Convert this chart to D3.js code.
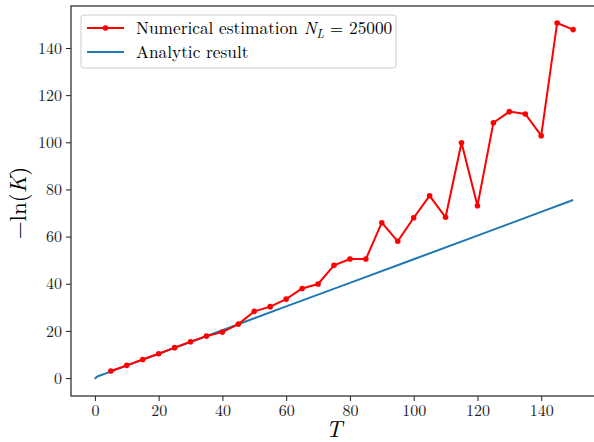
<!DOCTYPE html>
<html>
<head>
<meta charset="utf-8">
<script src="https://cdn.jsdelivr.net/npm/d3@7"></script>
<style>
  body { margin: 0; background: #fff; }
  svg text { font-family: "Latin Modern Roman", "CMU Serif", "Liberation Serif", serif; }
</style>
</head>
<body>
<svg width="594" height="442"></svg>
<script>
// numerical estimation, N_L = 25000
var numT = [5, 10, 15, 20, 25, 30, 35, 40, 45, 50, 55, 60, 65, 70, 75, 80, 85, 90, 95, 100,
  105, 110, 115, 120, 125, 130, 135, 140, 145, 150];
var numVal = [3.0, 5.4, 7.9, 10.3, 12.9, 15.4, 17.8, 19.5, 22.9, 28.3, 30.3, 33.5, 38.0, 39.9, 47.8,
  50.5, 50.5, 65.9, 58.0, 68.0, 77.3, 68.2, 99.8, 73.1, 108.3, 113.0, 112.0, 102.8, 150.6, 147.8];

// analytic result
var anaT = [0, 0.3, 0.7, 1.2, 2, 3, 5, 10, 20, 40, 60, 80, 100, 120, 140, 150];
var anaVal = [-0.4, 0.2, 0.6, 0.9, 1.3, 1.8, 2.8, 5.3, 10.3, 20.3, 30.4, 40.4, 50.4, 60.4, 70.5, 75.5];

var xTicks = [0, 20, 40, 60, 80, 100, 120, 140];
var yTicks = [0, 20, 40, 60, 80, 100, 120, 140];

var svg = d3.select("svg");

var x = d3.scaleLinear().domain([-7.5, 157.5]).range([71, 597]);
var y = d3.scaleLinear().domain([-7.6, 157.8]).range([396, 6]);

var num = numT.map(function (t, i) { return { t: t, v: numVal[i] }; });
var ana = anaT.map(function (t, i) { return { t: t, v: anaVal[i] }; });

var line = d3.line()
  .x(function (d) { return x(d.t); })
  .y(function (d) { return y(d.v); });

svg.append("path")
  .datum(ana)
  .attr("d", line)
  .attr("fill", "none")
  .attr("stroke", "#1f77b4")
  .attr("stroke-width", 2);

svg.append("path")
  .datum(num)
  .attr("d", line)
  .attr("fill", "none")
  .attr("stroke", "red")
  .attr("stroke-width", 2);

svg.append("g")
  .selectAll("circle")
  .data(num)
  .enter()
  .append("circle")
  .attr("cx", function (d) { return x(d.t); })
  .attr("cy", function (d) { return y(d.v); })
  .attr("r", 2.8)
  .attr("fill", "red");

// axes
var xAxis = svg.append("g")
  .attr("transform", "translate(0,396)")
  .call(d3.axisBottom(x).tickValues(xTicks).tickSize(5).tickPadding(4).tickSizeOuter(0));

var yAxis = svg.append("g")
  .attr("transform", "translate(71,0)")
  .call(d3.axisLeft(y).tickValues(yTicks).tickSize(5).tickPadding(4).tickSizeOuter(0));

[xAxis, yAxis].forEach(function (g) {
  g.select(".domain").remove();
  g.selectAll("line").attr("stroke", "#222");
  g.selectAll("text").attr("font-size", 16).attr("fill", "#222")
    .style("font-family", "'Latin Modern Roman', 'CMU Serif', 'Liberation Serif', serif");
});

// frame
svg.append("rect")
  .attr("x", 71).attr("y", 6)
  .attr("width", 526).attr("height", 390)
  .attr("fill", "none")
  .attr("stroke", "#222")
  .attr("stroke-width", 1.2);

// axis labels
svg.append("text")
  .attr("x", 334).attr("y", 437)
  .attr("text-anchor", "middle")
  .attr("font-size", 23)
  .attr("font-style", "italic")
  .text("T");

svg.append("text")
  .attr("transform", "translate(26,203) rotate(-90)")
  .attr("text-anchor", "middle")
  .attr("font-size", 23)
  .html("\u2212ln(<tspan font-style='italic'>K</tspan>)");

// legend
var leg = svg.append("g");
leg.append("rect")
  .attr("x", 81).attr("y", 15)
  .attr("width", 315).attr("height", 53)
  .attr("rx", 3)
  .attr("fill", "#fff")
  .attr("fill-opacity", 0.8)
  .attr("stroke", "#ccc");

leg.append("line")
  .attr("x1", 87).attr("x2", 124).attr("y1", 28).attr("y2", 28)
  .attr("stroke", "red").attr("stroke-width", 2);
leg.append("circle")
  .attr("cx", 105.5).attr("cy", 28).attr("r", 2.8).attr("fill", "red");
leg.append("line")
  .attr("x1", 87).attr("x2", 124).attr("y1", 52).attr("y2", 52)
  .attr("stroke", "#1f77b4").attr("stroke-width", 2);

leg.append("text")
  .attr("x", 136).attr("y", 34)
  .attr("font-size", 17.3)
  .html("Numerical estimation <tspan font-style='italic'>N</tspan><tspan font-style='italic' font-size='12' dy='4'>L</tspan><tspan dy='-4'> = 25000</tspan>");
leg.append("text")
  .attr("x", 136).attr("y", 58)
  .attr("font-size", 17.3)
  .text("Analytic result");
</script>
</body>
</html>
